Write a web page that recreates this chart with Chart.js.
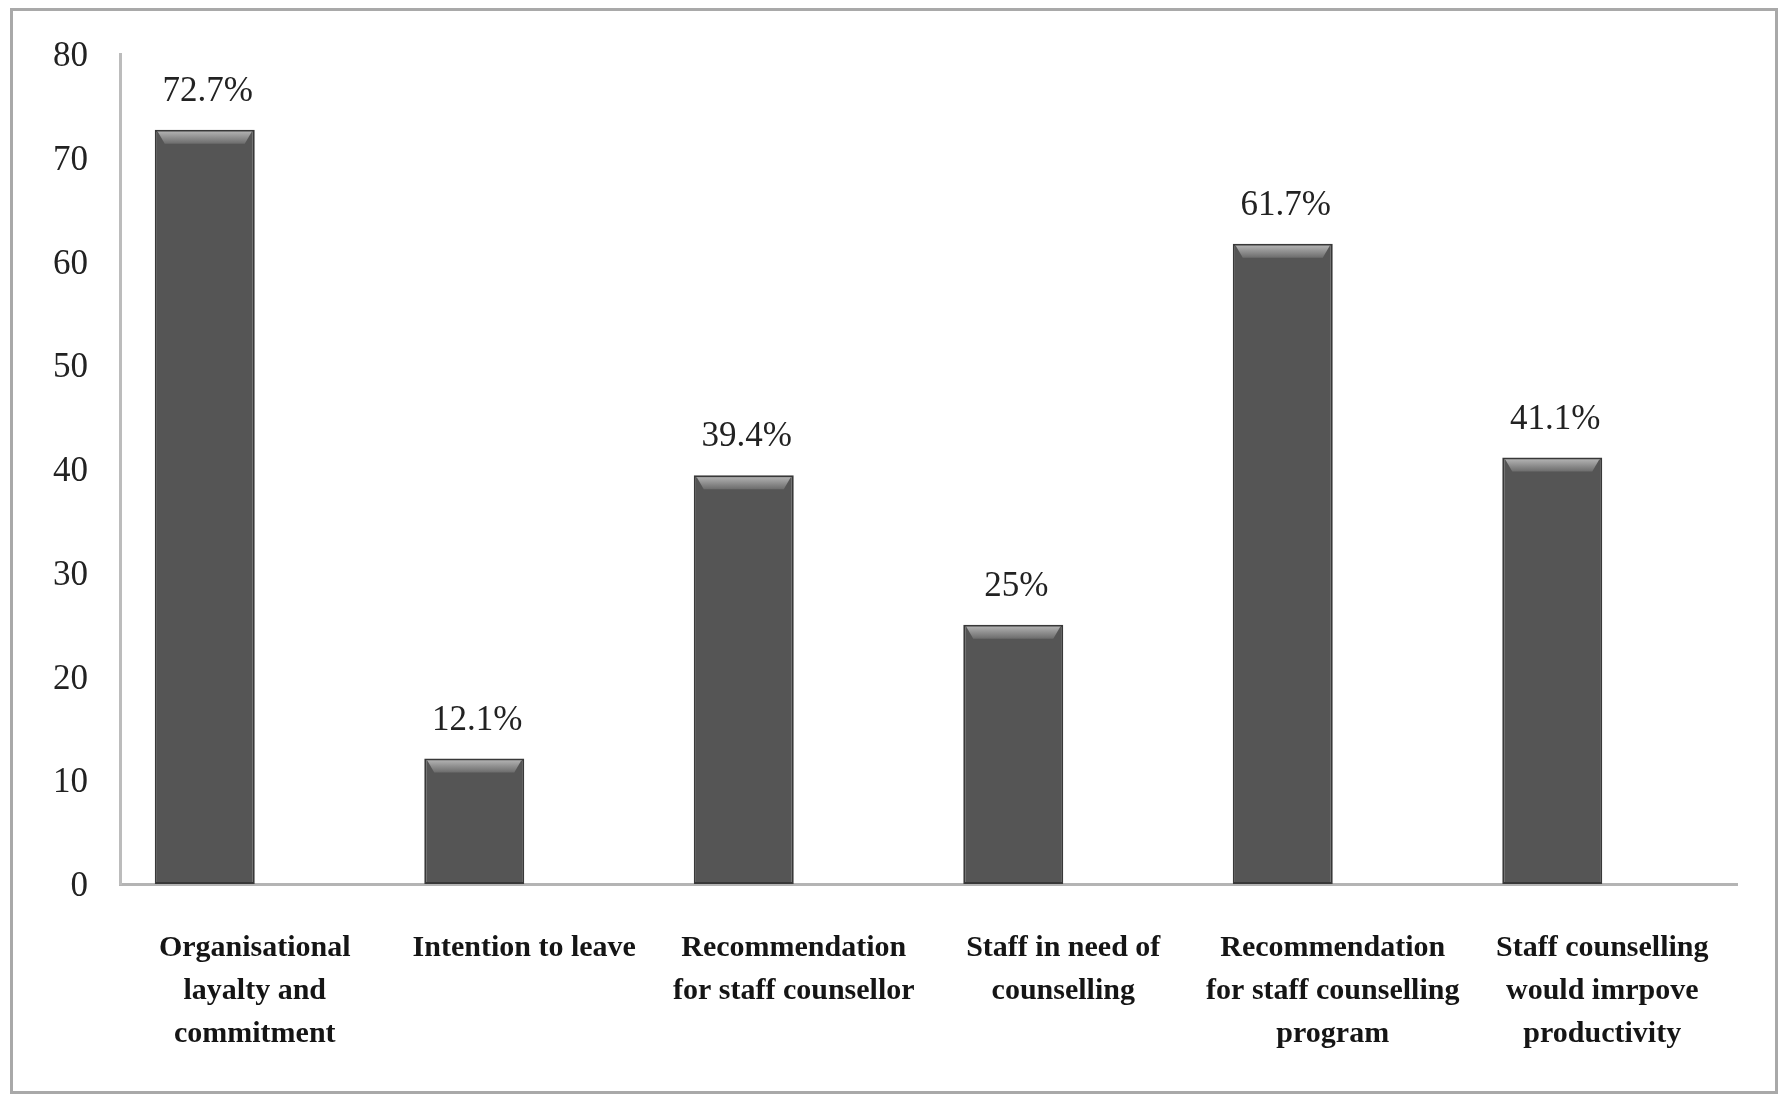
<!DOCTYPE html>
<html>
<head>
<meta charset="utf-8">
<script src="https://cdn.jsdelivr.net/npm/chart.js@4/dist/chart.umd.min.js"></script>
<style>
  html, body { margin: 0; padding: 0; background: #fff; }
  #frame { position: absolute; left: 10px; top: 8px; width: 1762px; height: 1080px; border: 3px solid #a9a9a9; box-sizing: content-box; }
  #wrap { position: absolute; left: 0; top: 0; width: 1778px; height: 1097px; }
</style>
</head>
<body>
<div id="frame"></div>
<div id="wrap"><canvas id="c" width="1778" height="1097"></canvas></div>
<script>
const categories = [
  ["Organisational", "layalty and", "commitment"],
  ["Intention to leave"],
  ["Recommendation", "for staff counsellor"],
  ["Staff in need of", "counselling"],
  ["Recommendation", "for staff counselling", "program"],
  ["Staff counselling", "would imrpove", "productivity"]
];
const values = [72.7, 12.1, 39.4, 25, 61.7, 41.1];
const valueLabels = ["72.7%", "12.1%", "39.4%", "25%", "61.7%", "41.1%"];
const emptySeries = [null, null, null, null, null, null];
const yTicks = [0, 10, 20, 30, 40, 50, 60, 70, 80];

function barGradient(ctx) {
  const el = ctx.element;
  const chart = ctx.chart;
  if (!el || el.width === undefined || isNaN(el.x)) return '#555';
  const x0 = el.x - el.width / 2, x1 = el.x + el.width / 2;
  const g = chart.ctx.createLinearGradient(x0, 0, x1, 0);
  g.addColorStop(0, '#3a3a3a');
  g.addColorStop(0.12, '#505050');
  g.addColorStop(0.5, '#5c5c5c');
  g.addColorStop(0.88, '#505050');
  g.addColorStop(1, '#3a3a3a');
  return g;
}

const bevelPlugin = {
  id: 'bevel',
  afterDatasetsDraw(chart) {
    const ctx = chart.ctx;
    const meta = chart.getDatasetMeta(0);
    ctx.save();
    meta.data.forEach((bar, i) => {
      const w = bar.width, l = bar.x - w / 2, r = bar.x + w / 2, t = bar.y;
      const g = ctx.createLinearGradient(0, t + 2, 0, t + 14);
      g.addColorStop(0, '#b0b0b0');
      g.addColorStop(1, '#6c6c6c');
      ctx.fillStyle = g;
      ctx.beginPath();
      ctx.moveTo(l + 3, t + 2);
      ctx.lineTo(r - 3, t + 2);
      ctx.lineTo(r - 10, t + 14);
      ctx.lineTo(l + 10, t + 14);
      ctx.closePath();
      ctx.fill();
    });
    ctx.restore();
  }
};

const valueLabelPlugin = {
  id: 'valueLabels',
  afterDatasetsDraw(chart) {
    const ctx = chart.ctx;
    const meta = chart.getDatasetMeta(0);
    ctx.save();
    ctx.font = '35px "Liberation Serif", "Times New Roman", serif';
    ctx.fillStyle = '#222';
    ctx.textAlign = 'center';
    ctx.textBaseline = 'middle';
    meta.data.forEach((bar, i) => {
      ctx.fillText(valueLabels[i], bar.x + 3, bar.y - 38);
    });
    ctx.restore();
  }
};

new Chart(document.getElementById('c'), {
  type: 'bar',
  data: {
    labels: categories,
    datasets: [
      {
        data: values,
        backgroundColor: barGradient,
        borderColor: '#383838',
        borderWidth: 2,
        borderSkipped: false,
        barPercentage: 1.0,
        categoryPercentage: 0.742
      },
      {
        data: emptySeries,
        backgroundColor: 'rgba(0,0,0,0)',
        barPercentage: 1.0,
        categoryPercentage: 0.742
      }
    ]
  },
  options: {
    responsive: false,
    animation: false,
    layout: { padding: { left: 0, right: 41, top: 54, bottom: 0 } },
    plugins: { legend: { display: false }, tooltip: { enabled: false } },
    scales: {
      x: {
        grid: { display: false, drawTicks: false },
        border: { display: true, color: '#b4b4b4', width: 3 },
        ticks: {
          autoSkip: false,
          maxRotation: 0,
          minRotation: 0,
          padding: 43,
          color: '#151515',
          font: { family: '"Liberation Serif", "Times New Roman", serif', size: 30, weight: 'bold', lineHeight: 1.43 }
        },
        afterFit(scale) { scale.height = 1097 - 884 - 0; }
      },
      y: {
        min: 0,
        max: 80,
        afterBuildTicks(scale) { scale.ticks = yTicks.map(v => ({ value: v })); },
        grid: { display: false, drawTicks: false },
        border: { display: true, color: '#bcbcbc', width: 3 },
        ticks: {
          padding: 32,
          labelOffset: 3,
          color: '#222',
          font: { family: '"Liberation Serif", "Times New Roman", serif', size: 35 }
        },
        afterFit(scale) { scale.width = 120; }
      }
    }
  },
  plugins: [bevelPlugin, valueLabelPlugin]
});
</script>
</body>
</html>
